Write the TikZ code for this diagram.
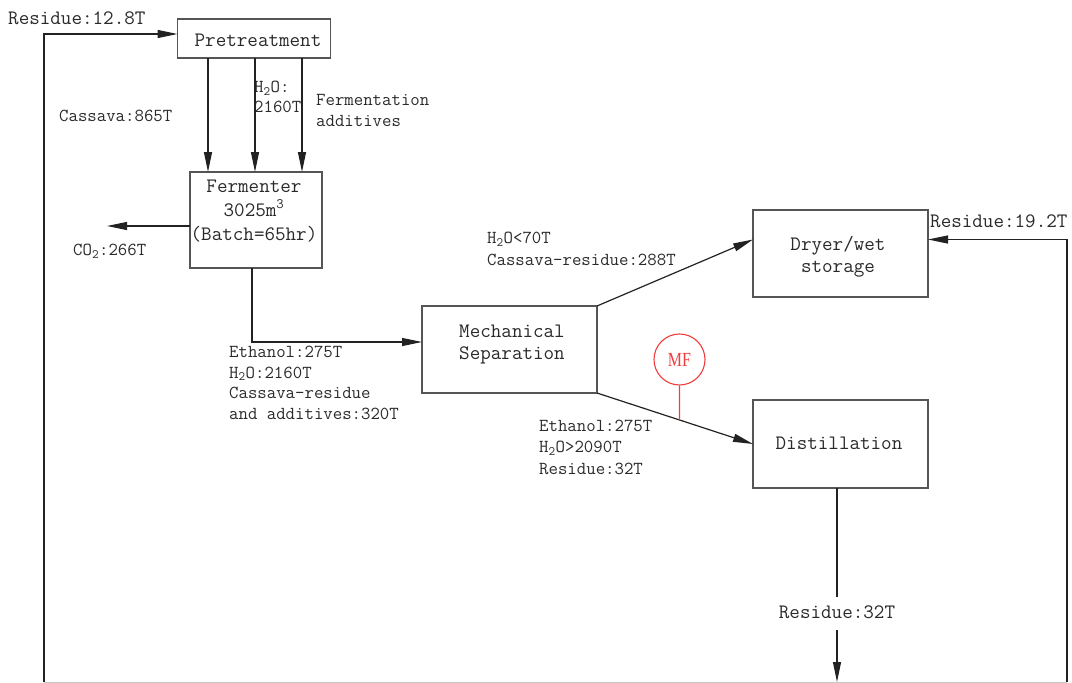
\documentclass[tikz,border=0pt]{standalone}
\usepackage{fontspec}
\newfontfamily\mffont{Liberation Serif}[FakeStretch=0.8]
\usetikzlibrary{arrows.meta,calc}
\definecolor{ln}{HTML}{222222}
\definecolor{bx}{HTML}{555555}
\definecolor{tx}{HTML}{2A2A2A}
\definecolor{mfred}{HTML}{F03C3C}
\tikzset{
  box/.style={draw=bx, line width=1.4pt, inner sep=0pt, outer sep=0pt},
  big/.style={font=\ttfamily\fontsize{20.5}{24}\selectfont, text=tx, inner sep=0pt, align=center},
  small/.style={font=\ttfamily\fontsize{18.3}{21}\selectfont, text=tx, inner sep=0pt, align=left, anchor=west},
  conn/.style={draw=ln, line width=1.2pt},
  arr/.style={conn, -{Triangle[length=20pt,width=8pt]}},
  mfnode/.style={circle, draw=mfred, line width=1.1pt, minimum size=51pt, inner sep=0pt,
    text=mfred, font=\mffont\fontsize{20}{20}\selectfont},
}
\begin{document}
\begin{tikzpicture}[x=1pt,y=-1pt]
\useasboundingbox (0,0) rectangle (1072,683);
% boxes
\node[box, minimum width=153pt, minimum height=39pt] (pre) at (254,38.5) {};
\node[box, minimum width=132pt, minimum height=96pt] (ferm) at (256,220) {};
\node[box, minimum width=175pt, minimum height=87pt] (mech) at (509.5,349.5) {};
\node[box, minimum width=175pt, minimum height=87pt] (dry) at (840.5,253.5) {};
\node[box, minimum width=175pt, minimum height=88pt] (dist) at (840.5,444) {};
% box texts
\node[big] (pretx) at (258,40.5) {Pretreatment};
\node[big, font=\ttfamily\fontsize{20.5}{24}\selectfont] (fermtx) at (254,211) {Fermenter\\3025m\textsuperscript{3}\\(Batch=65hr)};
\node[big, font=\ttfamily\fontsize{20.5}{22}\selectfont] (mechtx) at (512,345) {Mechanical\\Separation};
\node[big, font=\ttfamily\fontsize{20.5}{22}\selectfont] (drytx) at (838,257) {Dryer/wet\\storage};
\node[big] (disttx) at (839,443) {Distillation};
% labels
\node[big, anchor=west] (res128) at (8,18) {Residue:12.8T};
\node[small] (cass) at (59,116) {Cassava:865T};
\node[small, font=\ttfamily\fontsize{18.3}{20}\selectfont] (h2o) at (254,97) {H\textsubscript{2}O:\\2160T};
\node[small] (fadd) at (316,110) {Fermentation\\additives};
\node[small] (co2) at (73,251) {CO\textsubscript{2}:266T};
\node[small, font=\ttfamily\fontsize{18.3}{20.7}\selectfont] (eth1) at (229,383) {Ethanol:275T\\H\textsubscript{2}O:2160T\\Cassava-residue\\and additives:320T};
\node[small, font=\ttfamily\fontsize{18.3}{22}\selectfont] (h2o70) at (487,249) {H\textsubscript{2}O<70T\\Cassava-residue:288T};
\node[small, font=\ttfamily\fontsize{18.3}{21.5}\selectfont] (eth2) at (539,447) {Ethanol:275T\\H\textsubscript{2}O>2090T\\Residue:32T};
\node[big, anchor=west] (res192) at (930,221) {Residue:19.2T};
\node[big, text height=13pt, text depth=3pt, inner ysep=8.5pt] (res32) at (837,613.5) {Residue:32T};
% MF
\node[mfnode] (mf) at (679.5,359.5) {MF};
% coordinates
\coordinate (bl) at (44,682);
\coordinate (br) at (1067,682);
\coordinate (a1) at (208,0);
\coordinate (a2) at (255,0);
\coordinate (a3) at (302,0);
\coordinate (co2e) at (107,226);
\coordinate (f252) at (252,342);
\coordinate (d837) at (837,0);
\coordinate (bot) at (837,682);
\coordinate (mfp) at ($(mech.south east)!0.529!(dist.west)$);
% connectors
\draw[arr] (bl) |- ([yshift=4.5pt]pre.west);
\draw[arr] (pre.south -| a1) -- (ferm.north -| a1);
\draw[arr] (pre.south -| a2) -- (ferm.north -| a2);
\draw[arr] (pre.south -| a3) -- (ferm.north -| a3);
\draw[arr] (ferm.west |- co2e) -- (co2e);
\draw[arr] (ferm.south -| f252) |- (mech.west |- f252);
\draw[arr] (mech.north east) -- ([yshift=14pt]dry.west);
\draw[arr] (mech.south east) -- (dist.west);
\draw[draw=mfred, line width=1.1pt] (mf.south) -- (mfp);
\draw[conn] (dist.south -| d837) -- (res32.north);
\draw[arr] (res32.south) -- (bot);
\draw[arr] (br) |- ([yshift=14pt]dry.east);
\draw[draw=gray!45, line width=1pt] (bl) -- (br);
\end{tikzpicture}
\end{document}
